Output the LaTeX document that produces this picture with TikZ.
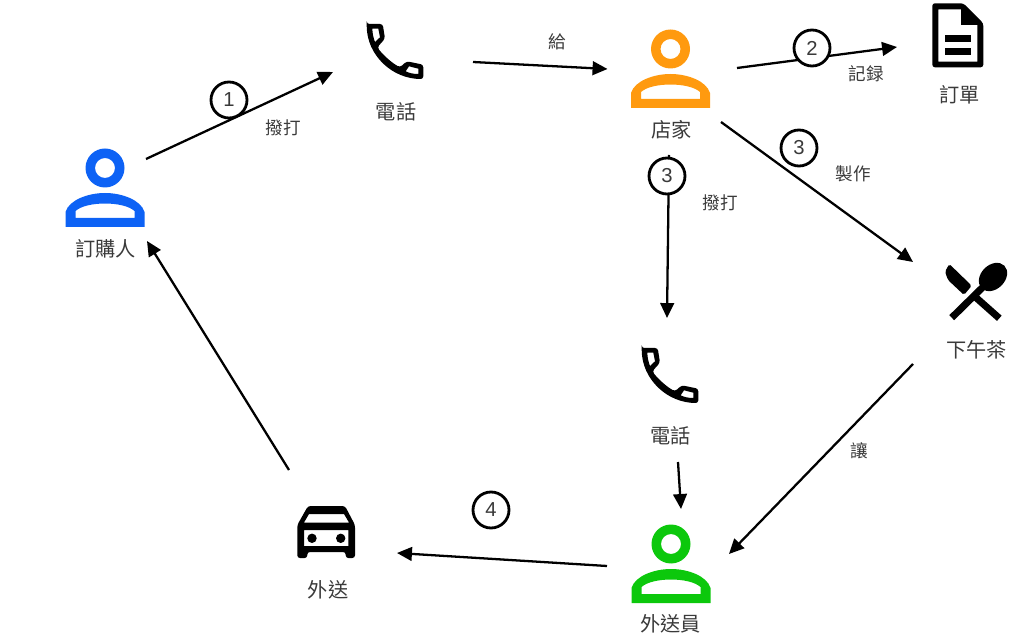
\documentclass[tikz,border=0pt]{standalone}
\usepackage{fontspec}
\setmainfont{Noto Sans CJK TC}
\newfontfamily\digitfont{Liberation Sans}
\usetikzlibrary{arrows.meta, positioning}

\definecolor{iconblue}{HTML}{0D62F5}
\definecolor{iconorange}{HTML}{FF9A0F}
\definecolor{icongreen}{HTML}{0CC80C}
\definecolor{labelgray}{HTML}{3A3A3A}

\tikzset{
	flow/.style={-{Triangle[length=8.5pt,width=7.8pt]}, line width=1.3pt, black},
	iconspot/.style={inner sep=0pt, minimum size=0pt},
	iconlabel/.style={font=\fontsize{11.5}{13}\selectfont, text=labelgray, inner sep=0pt},
	flowlabel/.style={font=\fontsize{10}{12}\selectfont, text=labelgray, inner sep=0pt},
	stepmark/.style={circle, draw=black, line width=1.6pt, fill=white, minimum size=0.72cm, inner sep=0pt, font=\digitfont\fontsize{11.5}{12}\selectfont, text=labelgray},
	person/.pic={
		\fill[#1, even odd rule] (0,-20) circle (19.5) (0,-20) circle (10);
		\fill[#1, even odd rule] (-39.5,39) -- (-39.5,24) .. controls (-36,12) and (-17,5) .. (0,5) .. controls (17,5) and (36,12) .. (39.5,24) -- (39.5,39) -- cycle
			(-29.5,30) -- (-29.5,23) .. controls (-24,18) and (-12,15.5) .. (0,15.5) .. controls (12,15.5) and (24,18) .. (29.5,23) -- (29.5,30) -- cycle;
	},
	phone/.pic={
		\fill[black, even odd rule, rounded corners=1.5] (-28.3,-28) -- (-12.3,-28) -- (-10,-13.3) -- (-17.7,-4.7) .. controls (-12,3) and (-3,11) .. (5,15.3) -- (11.7,9.3) -- (28.3,12.7) -- (28.3,27) .. controls (-3,27) and (-28,3) .. (-28.3,-28) -- cycle
			[sharp corners] (-22.7,-23.3) -- (-16.7,-23.3) -- (-15,-14.7) -- (-20,-10) .. controls (-21.5,-14) and (-22.5,-18) .. (-22.7,-23.3) -- cycle
			(10.7,19.3) -- (14,14.3) -- (23.3,16.7) -- (23.3,22) .. controls (18,22) and (14,21) .. (10.7,19.3) -- cycle;
	},
	sheet/.pic={
		\fill[black, even odd rule, rounded corners=1.5] (-25.7,-31.7) -- (5.3,-31.7) -- (25.3,-11.7) -- (25.3,32.3) -- (-25.7,32.3) -- cycle
			[sharp corners] (-19.7,-25.7) -- (3,-25.7) -- (3,-10) -- (19.3,-10) -- (19.3,26.7) -- (-19.7,26.7) -- cycle;
		\fill[black] (-13,0) rectangle (13,6.7);
		\fill[black] (-13,13.3) rectangle (13,20);
	},
	cutlery/.pic={
		\fill[black, rounded corners=1] (-26.7,-28) -- (-4.3,-6.3) -- (-12,3) -- (-28,-12) -- (-31,-20.3) -- cycle;
		\draw[black, line width=4pt] (-1,4.7) -- (23.3,26.3);
		\draw[black, line width=4pt] (7,-5) -- (-24.3,25.7);
		\fill[black, shift={(17,-15)}, rotate=45] (0,0) ellipse (16 and 12);
	},
	auto/.pic={
		\fill[black, even odd rule, rounded corners=1.5] (-28.7,-7) -- (-18,-26) -- (19,-26) -- (29,-7) -- (29,26) -- (19.7,26) -- (19.7,20) -- (-18.7,20) -- (-18.7,26) -- (-28.7,26) -- cycle
			[sharp corners] (-17,-18) -- (18,-18) -- (23,-9.5) -- (-22,-9.5) -- cycle
			(-22,-2) -- (22.3,-2) -- (22.3,14) -- (-22,14) -- cycle;
		\fill[black] (-14,6.3) circle (4.7);
		\fill[black] (14.7,6.3) circle (4.7);
	}
}

\begin{document}
\begin{tikzpicture}[x=0.02cm, y=-0.02cm]
	\useasboundingbox (0,0) rectangle (1024,641);

	% Icon spots
	\node[iconspot] (caller) at (105,188) {};
	\node[iconspot] (phoneA) at (395,52) {};
	\node[iconspot] (shop) at (670.5,69) {};
	\node[iconspot] (sheetdoc) at (958,35) {};
	\node[iconspot] (tea) at (976,292) {};
	\node[iconspot] (phoneB) at (670,376) {};
	\node[iconspot] (rider) at (671,564) {};
	\node[iconspot] (car) at (326,532) {};

	% Icons
	\pic at (caller) {person=iconblue};
	\pic at (shop) {person=iconorange};
	\pic at (rider) {person=icongreen};
	\pic at (phoneA) {phone};
	\pic at (phoneB) {phone};
	\pic at (sheetdoc) {sheet};
	\pic at (tea) {cutlery};
	\pic at (car) {auto};

	% Icon labels
	\node[iconlabel] (callerlabel) at (105.5,249) {訂購人};
	\node[iconlabel] (phoneAlabel) at (396,112) {電話};
	\node[iconlabel] (shoplabel) at (671.5,130) {店家};
	\node[iconlabel] (sheetlabel) at (959.5,95) {訂單};
	\node[iconlabel] (tealabel) at (976.5,350) {下午茶};
	\node[iconlabel] (phoneBlabel) at (670.5,436) {電話};
	\node[iconlabel] (carlabel) at (328,590) {外送};
	\node[iconlabel] (riderlabel) at (670.5,624) {外送員};

	% Connectors
	\draw[flow] ([shift={(41,-29)}]caller.center) -- ([shift={(-62,20)}]phoneA.center);
	\draw[flow] ([shift={(78,10)}]phoneA.center) -- ([shift={(-63,0)}]shop.center);
	\draw[flow] ([shift={(66.5,-1)}]shop.center) -- ([shift={(-61,12)}]sheetdoc.center);
	\draw[flow] ([shift={(50.5,53)}]shop.center) -- ([shift={(-63,-30)}]tea.center);
	\draw[flow] ([shift={(-1.5,86)}]shop.center) -- ([shift={(-3,-58)}]phoneB.center);
	\draw[flow] ([shift={(8,86)}]phoneB.center) -- ([shift={(10,-55)}]rider.center);
	\draw[flow] ([shift={(-63,72)}]tea.center) -- ([shift={(58,-10)}]rider.center);
	\draw[flow] ([shift={(-64,2)}]rider.center) -- ([shift={(71,21)}]car.center);
	\draw[flow] ([shift={(-37,-62)}]car.center) -- ([shift={(42,53)}]caller.center);

	% Step marks
	\node[stepmark] (stepone) at (229,100) {1};
	\node[stepmark] (steptwo) at (812,48) {2};
	\node[stepmark] (stepmake) at (799,148) {3};
	\node[stepmark] (stepdial) at (667,176) {3};
	\node[stepmark] (stepfour) at (491,510) {4};

	% Connector labels
	\node[flowlabel] (dialA) at (283,128) {撥打};
	\node[flowlabel] (give) at (557,42) {給};
	\node[flowlabel] (record) at (866,74) {記録};
	\node[flowlabel] (make) at (853,174) {製作};
	\node[flowlabel] (dialB) at (720,203) {撥打};
	\node[flowlabel] (hand) at (859,451) {讓};
\end{tikzpicture}
\end{document}
